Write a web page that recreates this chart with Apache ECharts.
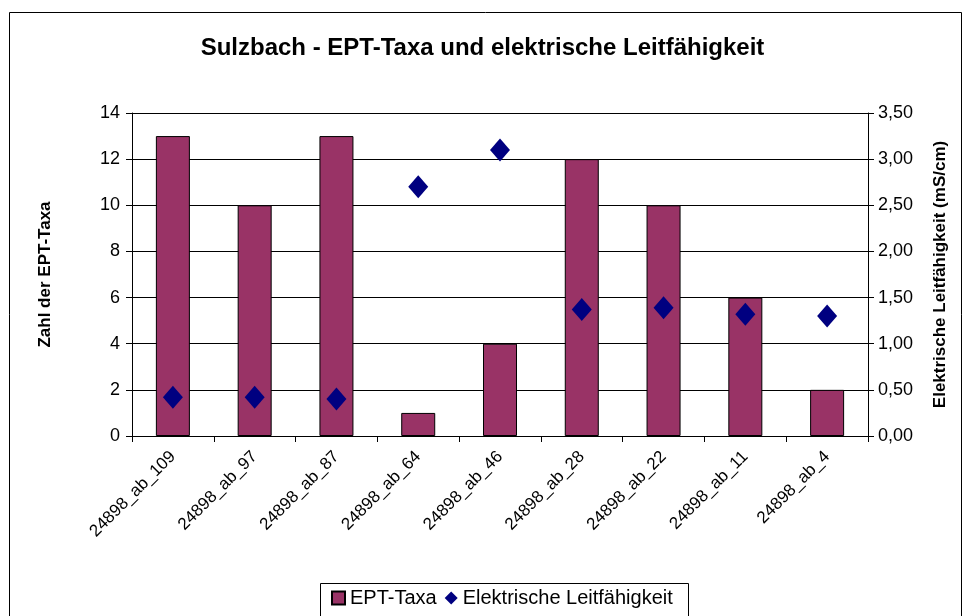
<!DOCTYPE html>
<html lang="de">
<head>
    <meta charset="utf-8">
    <script src="https://cdn.jsdelivr.net/npm/echarts@6/dist/echarts.min.js"></script>
    <style>
        html, body { margin: 0; padding: 0; background: #fff; }
        #chart { width: 965px; height: 616px; }
    </style>
</head>
<body>
<div id="chart"></div>
<script type="text/javascript">
    // Daten
    var categories = ['24898_ab_109', '24898_ab_97', '24898_ab_87', '24898_ab_64', '24898_ab_46',
        '24898_ab_28', '24898_ab_22', '24898_ab_11', '24898_ab_4'];
    var eptTaxa = [13, 10, 13, 1, 4, 12, 10, 6, 2];
    var leitfaehigkeit = [0.42, 0.42, 0.40, 2.70, 3.10, 1.37, 1.39, 1.32, 1.30];

    var font = 'Arial, "Liberation Sans", sans-serif';

    var chart = echarts.init(document.getElementById('chart'));

    var option = {
        backgroundColor: '#fff',
        animation: false,
        textStyle: { fontFamily: font, color: '#000' },
        title: {
            text: 'Sulzbach - EPT-Taxa und elektrische Leitfähigkeit',
            left: 'center',
            top: 31,
            textStyle: { fontFamily: font, fontSize: 24, fontWeight: 'bold', color: '#000' }
        },
        graphic: [{
            type: 'rect',
            shape: { x: 9.5, y: 12.5, width: 952, height: 610 },
            style: { fill: 'none', stroke: '#000', lineWidth: 1 },
            silent: true,
            z: -1
        }, {
            type: 'rect',
            shape: { x: 320.5, y: 583.5, width: 368, height: 40 },
            style: { fill: '#fff', stroke: '#000', lineWidth: 1 },
            silent: true,
            z: -1
        }],
        legend: {
            bottom: 3,
            left: 326,
            itemGap: 8,
            itemWidth: 13,
            itemHeight: 13,
            textStyle: { fontFamily: font, fontSize: 20, color: '#000' },
            data: [
                { name: 'EPT-Taxa', icon: 'rect' },
                { name: 'Elektrische Leitfähigkeit', icon: 'diamond' }
            ]
        },
        grid: {
            left: 132,
            right: 97,
            top: 113,
            bottom: 180
        },
        xAxis: {
            type: 'category',
            data: categories,
            axisLine: { lineStyle: { color: '#000' } },
            axisTick: { show: true, length: 6, lineStyle: { color: '#000' } },
            axisLabel: {
                rotate: 45,
                fontSize: 17,
                color: '#000',
                fontFamily: font,
                margin: 18,
                interval: 0
            }
        },
        yAxis: [{
            type: 'value',
            min: 0,
            max: 14,
            interval: 2,
            name: 'Zahl der EPT-Taxa',
            nameLocation: 'middle',
            nameGap: 78,
            nameTextStyle: { fontFamily: font, fontSize: 17, fontWeight: 'bold', color: '#000' },
            axisLine: { show: true, lineStyle: { color: '#000' } },
            axisTick: { show: true, length: 6, inside: false, lineStyle: { color: '#000' } },
            axisLabel: { fontSize: 18, color: '#000', fontFamily: font, margin: 12 },
            splitLine: { lineStyle: { color: '#000', width: 1 } }
        }, {
            type: 'value',
            min: 0,
            max: 3.5,
            interval: 0.5,
            name: 'Elektrische Leitfähigkeit (mS/cm)',
            nameLocation: 'middle',
            nameGap: 64,
            nameRotate: 90,
            nameTextStyle: { fontFamily: font, fontSize: 17, fontWeight: 'bold', color: '#000' },
            axisLine: { show: true, lineStyle: { color: '#000' } },
            axisTick: { show: true, length: 6, lineStyle: { color: '#000' } },
            axisLabel: {
                fontSize: 18,
                color: '#000',
                fontFamily: font,
                margin: 10,
                formatter: function (v) { return v.toFixed(2).replace('.', ','); }
            },
            splitLine: { show: false }
        }],
        series: [{
            name: 'EPT-Taxa',
            type: 'bar',
            data: eptTaxa,
            barWidth: 34,
            itemStyle: { color: '#993366', borderColor: '#000', borderWidth: 1 }
        }, {
            name: 'Elektrische Leitfähigkeit',
            type: 'scatter',
            yAxisIndex: 1,
            data: leitfaehigkeit,
            symbol: 'diamond',
            symbolSize: [20, 23],
            itemStyle: { color: '#000080', opacity: 1 }
        }]
    };

    chart.setOption(option);
</script>
</body>
</html>
